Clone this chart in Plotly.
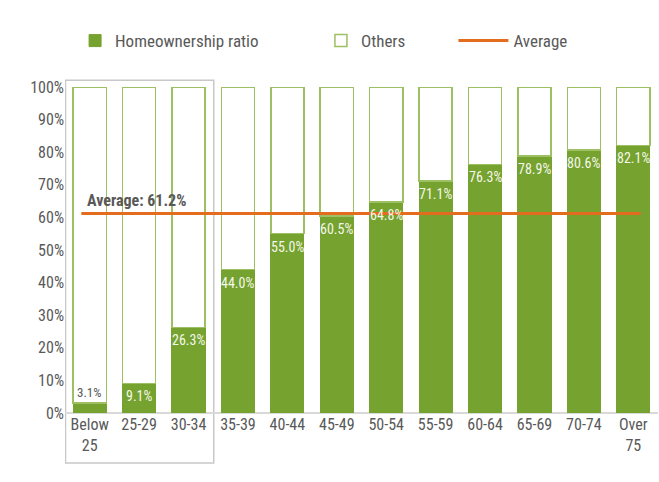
import plotly.graph_objects as go

categories = ["Below<br>25", "25-29", "30-34", "35-39", "40-44", "45-49", "50-54",
              "55-59", "60-64", "65-69", "70-74", "Over<br>75"]
ownership = [3.1, 9.1, 26.3, 44.0, 55.0, 60.5, 64.8, 71.1, 76.3, 78.9, 80.6, 82.1]
others = [round(100 - v, 1) for v in ownership]
average = 61.2

GREEN = "#76A22F"
BORDER = "#9CC062"
ORANGE = "#E36C1E"
GRAY = "#595959"
FONT = "Liberation Sans Narrow, Roboto Condensed, Arial Narrow, Roboto, sans-serif"

xs = list(range(len(categories)))

fig = go.Figure()
fig.add_trace(go.Bar(
    x=xs, y=ownership, name="Homeownership ratio", width=0.67,
    marker=dict(color=GREEN, line=dict(color=GREEN, width=1)),
    hoverinfo="skip", legend="legend"))
fig.add_trace(go.Bar(
    x=xs, y=others, name="Others", width=0.67,
    marker=dict(color="white", line=dict(color=BORDER, width=1.5)),
    hoverinfo="skip", legend="legend2"))
fig.add_trace(go.Scatter(
    x=[-0.17, len(categories) - 1 + 0.15], y=[average, average], mode="lines",
    name="Average", line=dict(color=ORANGE, width=3), hoverinfo="skip",
    legend="legend3"))

for x, v in zip(xs, ownership):
    if v < 5:
        fig.add_annotation(x=x, y=v, text=f"{v:.1f}%", showarrow=False,
                           yanchor="bottom", yshift=1,
                           font=dict(family=FONT, size=13, color=GRAY))
    else:
        fig.add_annotation(x=x, y=v, text=f"{v:.1f}%", showarrow=False,
                           yanchor="top", yshift=-3,
                           font=dict(family=FONT, size=14, color="#F4F8EC"))

fig.add_annotation(x=-0.17, y=average, text=f"<b>Average: {average:.1f}%</b>",
                   showarrow=False, xanchor="left", yanchor="bottom",
                   xshift=4, yshift=1,
                   font=dict(family=FONT, size=16, color=GRAY))

fig.add_shape(type="rect", xref="x", yref="paper", x0=-0.49, x1=2.51,
              y0=-0.153, y1=1.021, line=dict(color="#C8C8C8", width=1.5),
              fillcolor="rgba(0,0,0,0)", layer="below")

leg_font = dict(family=FONT, size=17, color=GRAY)
leg_common = dict(orientation="h", y=1.141, yanchor="middle", xanchor="left",
                  font=leg_font, bgcolor="rgba(0,0,0,0)")

fig.update_layout(
    width=659, height=482,
    barmode="stack",
    plot_bgcolor="white", paper_bgcolor="white",
    margin=dict(l=65, r=1, t=87, b=69, autoexpand=False),
    font=dict(family=FONT, size=16, color=GRAY),
    legend=dict(x=0.017, **leg_common),
    legend2=dict(x=0.4316, **leg_common),
    legend3=dict(x=0.655, itemwidth=50, **leg_common),
    showlegend=True,
)
fig.update_xaxes(tickmode="array", tickvals=xs, ticktext=categories,
                 range=[-0.5, len(categories) - 0.5], showgrid=False,
                 showline=False, zeroline=False, ticks="",
                 tickfont=dict(family=FONT, size=16, color=GRAY))
fig.update_yaxes(range=[0, 100], tickvals=list(range(0, 101, 10)),
                 ticktext=[f"{v}%" for v in range(0, 101, 10)],
                 showgrid=False, zeroline=True, zerolinecolor="#D9D9D9",
                 zerolinewidth=1.5, showline=False, ticks="",
                 tickfont=dict(family=FONT, size=16, color=GRAY))

fig.write_html("out.html", config={"displayModeBar": False},
               post_script="document.body.style.margin='0';")
